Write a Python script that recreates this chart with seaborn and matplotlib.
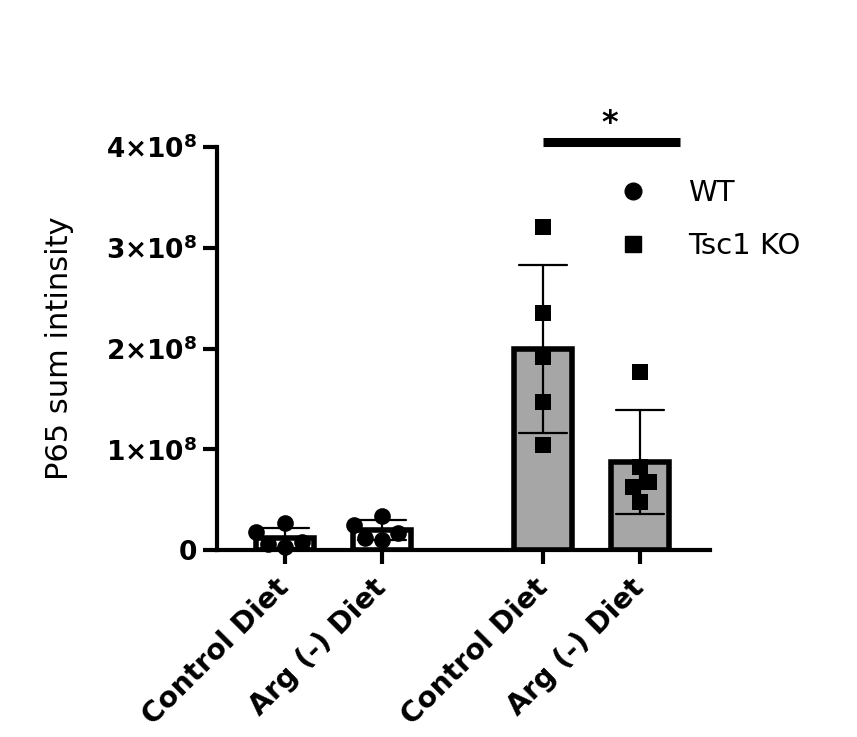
import numpy as np
import matplotlib
matplotlib.use("Agg")
import matplotlib.pyplot as plt
from matplotlib.lines import Line2D
from matplotlib.transforms import ScaledTranslation
import seaborn as sns
import pandas as pd

# values in units of 1e8
GENOTYPES = ["WT", "Tsc1 KO"]
DIETS = ["Control Diet", "Arg (-) Diet"]
wt_control = [0.27, 0.18, 0.03, 0.06, 0.08]
wt_arg = [0.34, 0.25, 0.17, 0.12, 0.10]
ko_control = [3.21, 2.35, 1.92, 1.47, 1.04]
ko_arg = [1.77, 0.82, 0.68, 0.63, 0.48]
ytick_vals = [0, 1, 2, 3, 4]
ytick_labels = ["0", r"$\mathbf{1{\times}10^{8}}$", r"$\mathbf{2{\times}10^{8}}$",
                r"$\mathbf{3{\times}10^{8}}$", r"$\mathbf{4{\times}10^{8}}$"]

SCALE = 1e8
GAP = 0.66
FILL = {"WT": "white", "Tsc1 KO": "#a6a6a6"}
MARK = {"WT": "o", "Tsc1 KO": "s"}

rows = []
series = [("WT", 0, wt_control), ("WT", 1, wt_arg),
          ("Tsc1 KO", 0, ko_control), ("Tsc1 KO", 1, ko_arg)]
for g, d, vals in series:
    gi = GENOTYPES.index(g)
    xpos = gi * (len(DIETS) + GAP) + d
    for v in vals:
        rows.append({"Genotype": g, "Diet": DIETS[d], "x": xpos, "value": v * SCALE})
df = pd.DataFrame(rows)
positions = sorted(df["x"].unique())

sns.set_style("ticks")
plt.rcParams["font.family"] = ["DejaVu Sans"]
plt.rcParams["mathtext.fontset"] = "dejavusans"
for key in ["text.color", "axes.labelcolor", "xtick.color", "ytick.color"]:
    plt.rcParams[key] = "black"

fig = plt.figure(figsize=(8.57, 7.37), dpi=100)
ax = fig.add_axes([0.2532, 0.2537, 0.5753, 0.5468])

sns.barplot(data=df, x="x", y="value", hue="Genotype", palette=FILL,
            native_scale=True, dodge=False, width=0.6, errorbar="sd",
            capsize=0.5, err_kws={"color": "black", "linewidth": 1.6},
            edgecolor="black", linewidth=4, legend=False, ax=ax)

for g in GENOTYPES:
    sns.swarmplot(data=df[df["Genotype"] == g], x="x", y="value",
                  native_scale=True, color="black", marker=MARK[g],
                  size=12, linewidth=0, ax=ax)
for coll in ax.collections:
    coll.set_clip_on(False)
    coll.set_zorder(3)

ax.set_xlim(-0.70, 4.38)
ax.set_ylim(0, 4 * SCALE)
ax.set_yticks([v * SCALE for v in ytick_vals])
ax.set_yticklabels(ytick_labels, fontsize=19, fontweight="bold")
ax.set_xticks(positions)
ax.set_xticklabels(DIETS * 2, fontsize=20.5, fontweight="bold",
                   rotation=45, ha="right", va="center", rotation_mode="anchor")
shift = ScaledTranslation(7 / 72, -6 / 72, fig.dpi_scale_trans)
for lab in ax.get_xticklabels():
    lab.set_transform(lab.get_transform() + shift)
ax.tick_params(axis="both", length=10, width=3, color="black", pad=4)
ax.tick_params(axis="x", pad=14)
for s in ["left", "bottom"]:
    ax.spines[s].set_linewidth(3)
    ax.spines[s].set_color("black")
sns.despine(ax=ax)

ax.set_xlabel("")
ax.set_ylabel("P65 sum intinsity", fontsize=22)
ax.yaxis.set_label_coords(-0.29, 0.5)

# significance bar between the KO groups
ax.plot([positions[2], 4.07], [4.05 * SCALE, 4.05 * SCALE], color="black",
        linewidth=6.5, solid_capstyle="butt", clip_on=False)
ax.text(3.35, 4.08 * SCALE, "*", ha="center", va="bottom", fontsize=23,
        fontweight="bold")

handles = [Line2D([], [], linestyle="none", marker=MARK[g], color="black",
                  markersize=12) for g in GENOTYPES]
ax.legend(handles, GENOTYPES, loc="center left", bbox_to_anchor=(0.691, 0.702),
          bbox_transform=fig.transFigure, frameon=False, fontsize=21,
          handlelength=1.0, handletextpad=1.4, labelspacing=0.85, borderpad=0.4)

fig.savefig("out.png", dpi=100)
